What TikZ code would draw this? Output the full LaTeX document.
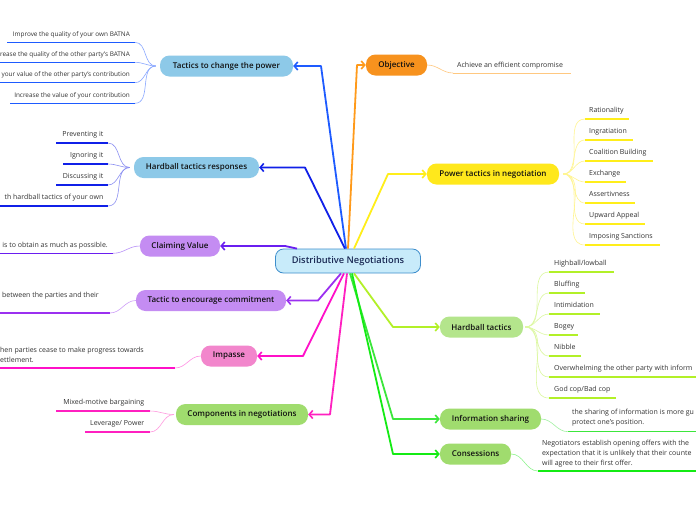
\documentclass[tikz,border=0pt]{standalone}
\usepackage{fontspec}
\setmainfont{Open Sans}
\IfFontExistsTF{Open Sans SemiBold}{\newfontfamily\boxfnt{Open Sans SemiBold}}{%
  \IfFontExistsTF{Open Sans Semibold}{\newfontfamily\boxfnt{Open Sans Semibold}}{\newcommand\boxfnt{\bfseries}}}
\usetikzlibrary{arrows.meta,calc}
\definecolor{cfill}{HTML}{C8EBFA}
\definecolor{cborder}{HTML}{3E8ECC}
\definecolor{ctext}{HTML}{1B2A55}
\definecolor{boxtext}{HTML}{111111}
\definecolor{leaftext}{HTML}{333333}
\definecolor{blueF}{HTML}{8DC9E8}
\definecolor{purpF}{HTML}{C48CF2}
\definecolor{pinkF}{HTML}{F286CC}
\definecolor{greenF}{HTML}{A0DC6E}
\definecolor{lgreenF}{HTML}{B4E58C}
\definecolor{orangeF}{HTML}{F7921E}
\definecolor{yellowF}{HTML}{FFE81C}
\definecolor{tcpC}{HTML}{1E5BFF}
\definecolor{tcpL}{HTML}{8AA8FF}
\definecolor{hbrC}{HTML}{1020E8}
\definecolor{hbrL}{HTML}{8C90F2}
\definecolor{cvC}{HTML}{6A1EF0}
\definecolor{cvL}{HTML}{B890F8}
\definecolor{tecC}{HTML}{9B30F0}
\definecolor{tecL}{HTML}{CFA0F8}
\definecolor{impC}{HTML}{FF10C8}
\definecolor{impL}{HTML}{FF90E4}
\definecolor{compC}{HTML}{FF20C0}
\definecolor{compL}{HTML}{FF9ADF}
\definecolor{objC}{HTML}{FF9A1A}
\definecolor{objL}{HTML}{FFC880}
\definecolor{ptnC}{HTML}{FFEE1A}
\definecolor{ptnL}{HTML}{FFF590}
\definecolor{hbtC}{HTML}{B2F028}
\definecolor{hbtL}{HTML}{DCF8A0}
\definecolor{infoC}{HTML}{3CE63C}
\definecolor{infoL}{HTML}{A0F0A0}
\definecolor{consC}{HTML}{14EB14}
\definecolor{consL}{HTML}{90F590}
\begin{document}
\begin{tikzpicture}[x=1pt,y=-1pt,
  cbox/.style={draw=cborder, fill=cfill, line width=0.8pt, rounded corners=8pt,
    minimum height=24pt, minimum width=145pt, inner sep=2pt,
    font=\boxfnt\fontsize{9.3}{11}\selectfont, text=ctext},
  box/.style={rounded corners=9.5pt, minimum height=21pt, inner sep=2pt,
    font=\boxfnt\fontsize{8}{9.5}\selectfont, text=boxtext},
  main/.style={line width=1.8pt, line join=round,
    -{Straight Barb[length=3.5pt,width=8pt,line width=1.6pt]}},
  leafE/.style={anchor=base east, inner sep=0pt, font=\fontsize{7}{10.2}\selectfont, text=leaftext},
  leafS/.style={anchor=base east, inner sep=0pt, font=\fontsize{6.4}{9}\selectfont, text=leaftext},
  leafW/.style={anchor=base west, inner sep=0pt, font=\fontsize{7}{10.2}\selectfont, text=leaftext},
  leafM/.style={anchor=north west, inner sep=0pt, align=left, font=\fontsize{7}{10.2}\selectfont, text=leaftext},
  ul/.style={line width=1.5pt},
  tw/.style={line width=0.6pt}]
\useasboundingbox (0,0) rectangle (696,520);
\fill[white] (0,0) rectangle (696,520);
\clip (0,0) rectangle (696,520);
\coordinate (edgeL) at (-5,0);
\coordinate (edgeR) at (701,0);

% ---- nodes
\node[cbox] (c) at (348,261) {Distributive Negotiations};
\node[box, fill=blueF, minimum width=133pt] (tcp) at (226.5,66) {Tactics to change the power};
\node[box, fill=blueF, minimum width=125pt] (hbr) at (196.5,167.5) {Hardball tactics responses};
\node[box, fill=purpF, minimum width=80pt] (cv) at (180,246) {Claiming Value};
\node[box, fill=purpF, minimum width=150pt] (tec) at (211,300.5) {Tactic to encourage commitment};
\node[box, fill=pinkF, minimum width=56pt] (imp) at (229,356) {Impasse};
\node[box, fill=greenF, minimum width=132pt] (comp) at (242,414.5) {Components in negotiations};
\node[box, fill=orangeF, minimum width=61pt] (obj) at (396.5,65) {Objective};
\node[box, fill=yellowF, minimum width=132pt] (ptn) at (493,174) {Power tactics in negotiation};
\node[box, fill=lgreenF, minimum width=83pt] (hbt) at (481.5,327) {Hardball tactics};
\node[box, fill=greenF, minimum width=101pt] (info) at (490.5,419) {Information sharing};
\node[box, fill=greenF, minimum width=71pt] (cons) at (475.5,454) {Consessions};

% ---- main connectors
\draw[main, draw=tcpC] ([xshift=-2pt]c.north) -- (321,66) -- (tcp.east);
\draw[main, draw=hbrC] ([xshift=-3pt]c.north) -- (305,167.5) -- (hbr.east);
\draw[main, draw=cvC] ([xshift=-51pt]c.north) -- (285,246) -- (cv.east);
\draw[main, draw=tecC] ([xshift=-7pt]c.south) -- (318,300.5) -- (tec.east);
\draw[main, draw=impC] ([xshift=-4pt]c.south) -- (303,356) -- (imp.east);
\draw[main, draw=compC] ([xshift=-1pt]c.south) -- (330,414.5) -- (comp.east);
\draw[main, draw=objC] (c.north) -- (357,65) -- (obj.west);
\draw[main, draw=ptnC] ([xshift=6pt]c.north) -- (388,174) -- (ptn.west);
\draw[main, draw=hbtC] ([xshift=6pt]c.south) -- (393,327) -- (hbt.west);
\draw[main, draw=infoC] ([xshift=2pt]c.south) -- (393,419) -- (info.west);
\draw[main, draw=consC] ([xshift=4pt]c.south) -- (393,454) -- (cons.west);

% ---- Tactics to change the power
\node[leafS] (tc1) at (130,36.1) {Improve the quality of your own BATNA};
\node[leafS] (tc2) at (130,56.1) {rease the quality of the other party’s BATNA};
\node[leafS] (tc3) at (130,76.5) {your value of the other party’s contribution};
\node[leafS] (tc4) at (130,97.1) {Increase the value of your contribution};
\foreach \i/\y/\a in {1/42.3/7, 2/62.3/-5, 3/82.7/-5, 4/103.3/10}{
  \coordinate (tcR\i) at (135,\y);
  \coordinate (tcA\i) at (\a,\y);
  \draw[tw, draw=tcpL] ([xshift=-4pt]tcp.west) to[out=180,in=0] (tcR\i);
  \draw[ul, draw=tcpC] (tcA\i) -- (tcR\i);
}
% ---- Hardball tactics responses
\node[leafE] (hr1) at (103.5,136.8) {Preventing it};
\node[leafE] (hr2) at (103.5,157.8) {Ignoring it};
\node[leafE] (hr3) at (103.5,178.8) {Discussing it};
\node[leafE] (hr4) at (103.5,199.8) {th hardball tactics of your own};
\foreach \i/\y/\a in {1/143/56, 2/164/63, 3/185/56, 4/206/-5}{
  \coordinate (hrR\i) at (108,\y);
  \coordinate (hrA\i) at (\a,\y);
  \draw[tw, draw=hbrL] ([xshift=-4pt]hbr.west) to[out=180,in=0] (hrR\i);
  \draw[ul, draw=hbrC] (hrA\i) -- (hrR\i);
}
% ---- Claiming value
\coordinate (cvR) at (113,253.3);
\node[leafE] (cv1) at (108,247.2) {is to obtain as much as possible.};
\draw[ul, draw=cvC] (cvR) -- (edgeL |- cvR);
\draw[tw, draw=cvL] (cv.west) to[out=180,in=0] (cvR);
% ---- Commitment
\coordinate (tecR) at (110,313);
\node[leafE] (tec1) at (99,297.4) {between the parties and their};
\draw[ul, draw=tecC] (tecR) -- (edgeL |- tecR);
\draw[tw, draw=tecL] (tec.west) to[out=180,in=0] (tecR);
% ---- Impasse
\coordinate (impR) at (175,368);
\node[leafM] (imp1) at (0,347) {hen parties cease to make progress towards\\ettlement.};
\draw[ul, draw=impC] (impR) -- (edgeL |- impR);
\draw[tw, draw=impL] (imp.west) to[out=180,in=0] (impR);
% ---- Components
\node[leafE] (cp1) at (144.5,404.8) {Mixed-motive bargaining};
\node[leafE] (cp2) at (144.5,425.8) {Leverage/ Power};
\foreach \i/\y/\a in {1/411/56, 2/432/85}{
  \coordinate (cpR\i) at (150,\y);
  \coordinate (cpA\i) at (\a,\y);
  \draw[tw, draw=compL] ([xshift=-2pt]comp.west) to[out=180,in=0] (cpR\i);
  \draw[ul, draw=compC] (cpA\i) -- (cpR\i);
}
% ---- Objective
\coordinate (objL1) at (453,73);
\coordinate (objE1) at (571,73);
\node[leafW] (ob1) at (457,67.6) {Achieve an efficient compromise};
\draw[line width=1pt, draw=objL] (objL1) -- (objE1);
\draw[tw, draw=objL] (obj.east) to[out=0,in=180] (objL1);
% ---- Power tactics
\foreach \i/\y/\t/\e in {1/119/{Rationality}/629, 2/140/{Ingratiation}/633, 3/161/{Coalition Building}/653,
    4/182/{Exchange}/626, 5/203/{Assertivness}/635, 6/224/{Upward Appeal}/645, 7/245/{Imposing Sanctions}/660}{
  \node[leafW] (pt\i) at (589,\y-6.4) {\t};
  \coordinate (ptL\i) at (585,\y);
  \coordinate (ptE\i) at (\e,\y);
  \draw[ul, draw=ptnC] (ptL\i) -- (ptE\i);
  \draw[tw, draw=ptnL] ([xshift=4pt]ptn.east) to[out=0,in=180] (ptL\i);
}
% ---- Hardball tactics
\foreach \i/\y/\t/\e in {1/272/{Highball/lowball}/614, 2/293/{Bluffing}/585, 3/314/{Intimidation}/600,
    4/335/{Bogey}/578, 5/356/{Nibble}/581, 6/377/{Overwhelming the other party with inform}/701,
    7/398/{God cop/Bad cop}/616}{
  \node[leafW] (ht\i) at (554,\y-6.4) {\t};
  \coordinate (htL\i) at (549,\y);
  \coordinate (htE\i) at (\e,\y);
  \draw[ul, draw=hbtC] (htL\i) -- (htE\i);
  \draw[tw, draw=hbtL] ([xshift=2pt]hbt.east) to[out=0,in=180] (htL\i);
}
% ---- Information sharing
\coordinate (infL) at (568,431.7);
\node[leafM] (inf1) at (572,409.2) {the sharing of information is more gu\\protect one’s position.};
\draw[ul, draw=infoC] (infL) -- (edgeR |- infL);
\draw[tw, draw=infoL] (info.east) to[out=0,in=180] (infL);
% ---- Consessions
\coordinate (conL) at (538,471);
\node[leafM] (con1) at (542,439.6) {Negotiators establish opening offers with the\\expectation that it is unlikely that their counte\\will agree to their first offer.};
\draw[ul, draw=consC] (conL) -- (edgeR |- conL);
\draw[tw, draw=consL] (cons.east) to[out=0,in=180] (conL);
\end{tikzpicture}
\end{document}
